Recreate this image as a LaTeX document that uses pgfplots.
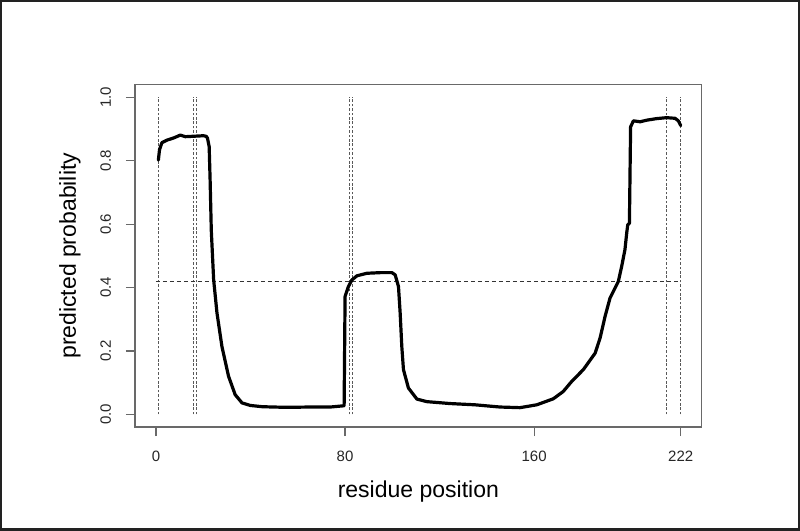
\documentclass[border=0pt]{standalone}
\usepackage{fontspec}
\setmainfont{Liberation Sans}
\usepackage{pgfplots}
\pgfplotsset{compat=1.18}
\definecolor{boxgray}{RGB}{105,105,105}
\definecolor{framec}{RGB}{34,34,34}
\begin{document}
\begin{tikzpicture}
% page = 400pt x 265.5pt (800 x 531 px)
\path[use as bounding box] (-67.5pt,-52pt) rectangle (332.5pt,213.5pt);
\fill[white] (-67.5pt,-52pt) rectangle (332.5pt,213.5pt);
\begin{axis}[
    at={(0,0)}, anchor=south west, scale only axis,
    width=283.35pt, height=171.15pt,
    xmin=-8.88, xmax=230.88, ymin=-0.04, ymax=1.04,
    xtick={0,80,160,222}, ytick={0,0.2,0.4,0.6,0.8,1.0},
    tick align=outside, tick pos=left, major tick length=4.5pt,
    axis line style={boxgray, line width=0.6pt},
    tick style={boxgray, line width=0.6pt},
    /pgf/number format/assume math mode=true,
    yticklabel={\pgfmathprintnumber[fixed,fixed zerofill,precision=1]{\tick}},
    ticklabel style={font=\fontsize{7.5}{9}\selectfont, text=black!85},
    xticklabel style={yshift=-4pt},
    yticklabel style={rotate=90, anchor=south, yshift=4pt},
    xlabel={residue position}, ylabel={predicted probability},
    every axis x label/.style={at={(axis description cs:0.5,-0.19)}, anchor=center,
        font=\fontsize{11.5}{13}\selectfont},
    every axis y label/.style={at={(axis description cs:-0.1147,0.5)}, anchor=center,
        rotate=90, font=\fontsize{11.5}{13}\selectfont},
]
% reference lines
\addplot[black!65, line width=0.5pt, dash pattern=on 1.3pt off 0.9pt] coordinates {(1,0) (1,1)};
\addplot[black!65, line width=0.5pt, dash pattern=on 1.3pt off 0.9pt] coordinates {(16,0) (16,1)};
\addplot[black!65, line width=0.5pt, dash pattern=on 1.3pt off 0.9pt] coordinates {(17,0) (17,1)};
\addplot[black!65, line width=0.5pt, dash pattern=on 1.3pt off 0.9pt] coordinates {(82,0) (82,1)};
\addplot[black!65, line width=0.5pt, dash pattern=on 1.3pt off 0.9pt] coordinates {(83,0) (83,1)};
\addplot[black!65, line width=0.5pt, dash pattern=on 1.3pt off 0.9pt] coordinates {(216,0) (216,1)};
\addplot[black!65, line width=0.5pt, dash pattern=on 1.3pt off 0.9pt] coordinates {(222,0) (222,1)};
\addplot[black!80, line width=0.5pt, dash pattern=on 2pt off 1.5pt] coordinates {(0,0.42) (222,0.42)};
% predicted probability
\addplot[black, line width=1.6pt, line join=round, line cap=round] coordinates {
(1,0.802) (1.5,0.835) (2.5,0.857) (4.6,0.865) (7.5,0.872) (10.3,0.881)
(12.4,0.876) (15,0.877) (20.1,0.879) (21.3,0.877) (21.8,0.871) (22.5,0.845) (22.9,0.740)
(23.4,0.580) (24.4,0.424) (25.8,0.320) (27.9,0.214) (30.7,0.120) (33.5,0.062)
(36.4,0.036) (39.9,0.028) (45,0.024) (55,0.022) (65,0.023) (73.7,0.023)
(79.6,0.027) (80,0.372) (81.4,0.403) (82.9,0.424) (85,0.437) (89.2,0.445)
(94.8,0.447) (99.8,0.447) (101.2,0.440) (102.6,0.403) (103.3,0.320) (104,0.214)
(104.7,0.141) (106.8,0.083) (110.4,0.048) (114.6,0.040) (124.4,0.034) (135,0.030)
(141,0.026) (145.6,0.023) (154,0.021) (161.1,0.030) (168.1,0.049) (172.3,0.072)
(175.9,0.104) (180.8,0.141) (185.8,0.193) (187.9,0.241) (190,0.309) (192.1,0.367)
(195.6,0.419) (197,0.466) (198.4,0.519) (199.2,0.575) (199.6,0.598) (200.3,0.603)
(200.8,0.907) (202,0.926) (204.8,0.923)
(207.6,0.928) (211.8,0.933) (216,0.936) (219.6,0.934) (221,0.926) (222,0.911)
};
\end{axis}
\draw[framec, line width=1.25pt] (-66.875pt,-51.375pt) rectangle (331.875pt,212.875pt);
\end{tikzpicture}
\end{document}
